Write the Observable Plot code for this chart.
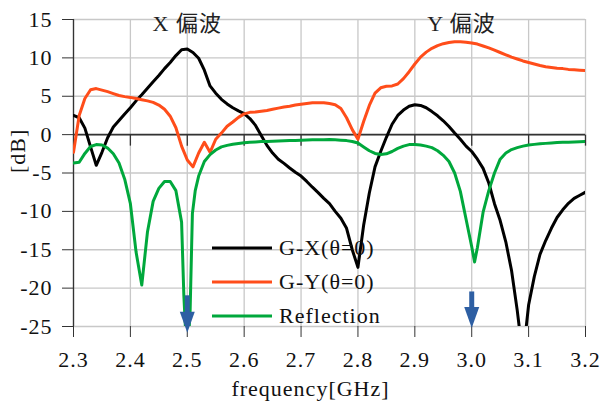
<!DOCTYPE html>
<html>
<head>
<meta charset="utf-8">
<script src="https://cdn.jsdelivr.net/npm/d3@7"></script>
<script src="https://cdn.jsdelivr.net/npm/@observablehq/plot@0.6"></script>
<style>
  body { margin: 0; background: #fff; }
</style>
</head>
<body>
<div id="chart"></div>
<script>
// Frequency sweep (GHz) shared by the two gain curves
const freq = [
  2.30, 2.31, 2.32, 2.33, 2.34, 2.35, 2.36, 2.37, 2.38, 2.39,
  2.40, 2.41, 2.42, 2.43, 2.44, 2.45, 2.46, 2.47, 2.48, 2.49,
  2.50, 2.51, 2.52, 2.53, 2.54, 2.55, 2.56, 2.57, 2.58, 2.59,
  2.60, 2.61, 2.62, 2.63, 2.64, 2.65, 2.66, 2.67, 2.68, 2.69,
  2.70, 2.71, 2.72, 2.73, 2.74, 2.75, 2.76, 2.77, 2.78, 2.79,
  2.80, 2.81, 2.82, 2.83, 2.84, 2.85, 2.86, 2.87, 2.88, 2.89,
  2.90, 2.91, 2.92, 2.93, 2.94, 2.95, 2.96, 2.97, 2.98, 2.99,
  3.00, 3.01, 3.02, 3.03, 3.04, 3.05, 3.06, 3.07, 3.08, 3.09,
  3.10, 3.11, 3.12, 3.13, 3.14, 3.15, 3.16, 3.17, 3.18, 3.19, 3.20
];

// G-X(θ=0) [dB]
const gainGX = [
  2.5, 2.2, 0.85, -1.6, -4.0, -2.3, -0.4, 1.0, 1.85, 2.7,
  3.5, 4.4, 5.2, 6.05, 6.9, 7.7, 8.6, 9.4, 10.3, 11.05,
  11.15, 10.7, 9.95, 8.4, 6.35, 5.4, 4.6, 4.0, 3.5, 3.1,
  2.75, 2.1, 1.2, -0.1, -1.4, -2.4, -3.2, -3.75, -4.35, -4.9,
  -5.4, -6.1, -6.85, -7.55, -8.3, -9.0, -10.0, -10.9, -12.2, -15.0,
  -17.3, -11.8, -7.6, -4.2, -2.2, -0.35, 1.35, 2.5, 3.2, 3.7,
  3.9, 3.8, 3.5, 3.0, 2.45, 1.8, 1.05, 0.2, -0.6, -1.5,
  -2.2, -3.2, -4.4, -6.3, -9.0, -11.2, -14.0, -17.7, -22.9, -29.0,
  -22.2, -18.5, -15.6, -13.8, -12.2, -10.8, -9.8, -8.95, -8.3, -7.9, -7.5
];

// G-Y(θ=0) [dB]
const gainGY = [
  -2.3, 2.5, 4.7, 5.85, 6.0, 5.8, 5.6, 5.35, 5.1, 4.95,
  4.85, 4.7, 4.55, 4.4, 4.2, 3.85, 3.3, 2.4, 0.9, -1.5,
  -3.3, -4.2, -2.4, -1.0, -2.3, -0.6, 0.2, 1.1, 1.65, 2.25,
  2.7, 2.9, 2.95, 3.05, 3.15, 3.3, 3.45, 3.6, 3.7, 3.85,
  3.95, 4.05, 4.15, 4.15, 4.15, 4.05, 3.9, 3.4, 2.2, 0.65,
  -0.6, 1.7, 3.8, 5.4, 6.1, 6.3, 6.35, 6.6, 7.3, 8.2,
  9.2, 10.1, 10.75, 11.25, 11.6, 11.85, 12.0, 12.1, 12.1, 12.05,
  11.95, 11.8, 11.55, 11.3, 11.0, 10.7, 10.4, 10.1, 9.85, 9.6,
  9.4, 9.2, 9.0, 8.85, 8.75, 8.65, 8.6, 8.5, 8.45, 8.4, 8.35
];

// Reflection: denser sweep points around the 2.5 GHz and 3.0 GHz resonances
const reflFreq = [
  2.30, 2.31, 2.32, 2.33, 2.34, 2.35, 2.36, 2.37, 2.38, 2.39,
  2.40, 2.41, 2.42, 2.43, 2.44, 2.45, 2.46, 2.47, 2.48, 2.49,
  2.494, 2.498, 2.502, 2.505, 2.509, 2.514,
  2.52, 2.53, 2.54, 2.55, 2.56, 2.57, 2.58, 2.59,
  2.60, 2.61, 2.62, 2.63, 2.64, 2.65, 2.66, 2.67, 2.68, 2.69,
  2.70, 2.71, 2.72, 2.73, 2.74, 2.75, 2.76, 2.77, 2.78, 2.79,
  2.80, 2.81, 2.82, 2.83, 2.84, 2.85, 2.86, 2.87, 2.88, 2.89,
  2.90, 2.91, 2.92, 2.93, 2.94, 2.95, 2.96, 2.97, 2.98, 2.99,
  3.00, 3.005, 3.01, 3.02, 3.03, 3.04, 3.05, 3.06, 3.07, 3.08, 3.09,
  3.10, 3.11, 3.12, 3.13, 3.14, 3.15, 3.16, 3.17, 3.18, 3.19, 3.20
];
const reflDb = [
  -3.7, -3.6, -2.45, -1.55, -1.3, -1.35, -1.75, -2.5, -3.7, -5.8,
  -9.0, -15.3, -19.6, -12.7, -8.7, -7.0, -6.1, -6.1, -7.3, -11.4,
  -21.0, -27.0, -27.0, -22.9, -10.3, -7.3,
  -5.4, -3.5, -2.6, -2.0, -1.6, -1.4, -1.25, -1.15,
  -1.05, -1.0, -0.95, -0.9, -0.88, -0.85, -0.82, -0.8, -0.77, -0.75,
  -0.72, -0.7, -0.68, -0.67, -0.66, -0.65, -0.68, -0.72, -0.78, -0.9,
  -1.1, -1.6, -2.1, -2.45, -2.6, -2.5, -2.2, -1.8, -1.5, -1.3,
  -1.3, -1.35, -1.5, -1.7, -2.1, -2.7, -3.5, -5.0, -7.4, -11.0,
  -14.6, -16.6, -14.7, -10.1, -7.3, -5.0, -3.2, -2.4, -1.95, -1.7, -1.5,
  -1.35, -1.27, -1.2, -1.14, -1.08, -1.04, -1.0, -0.98, -0.95, -0.92, -0.9
];

const seriesNames = ["G-X(θ=0)", "G-Y(θ=0)", "Reflection"];
const seriesColors = ["#000000", "#ff4d1a", "#00a83c"];

const xTicks = [2.3, 2.4, 2.5, 2.6, 2.7, 2.8, 2.9, 3.0, 3.1, 3.2];
const yTicks = [15, 10, 5, 0, -5, -10, -15, -20, -25];

// Band annotations
const bandLabels = ["X 偏波", "Y 偏波"];
const bandLabelFreq = [2.5, 2.982];
const bandLabelDb = [14.4, 14.4];

// Design-frequency markers (downward arrows)
const arrowFreq = [2.5, 3.0];
const arrowTop = [-21.0, -20.5];
const arrowTip = [-25.8, -25.2];

const gx = freq.map((f, i) => ({f, db: gainGX[i]}));
const gy = freq.map((f, i) => ({f, db: gainGY[i]}));
const refl = reflFreq.map((f, i) => ({f, db: reflDb[i]}));
const arrows = arrowFreq.map((f, i) => ({f, top: arrowTop[i], tip: arrowTip[i]}));
const bands = bandLabels.map((t, i) => ({t, f: bandLabelFreq[i], db: bandLabelDb[i]}));

const axisInk = "#333";
const gridInk = "#c8c8c8";
const arrowInk = "#2e5fa3";

// short tick hanging below the 0 dB axis line
const tickDown = {draw(ctx) { ctx.moveTo(0, 0); ctx.lineTo(0, 11); }};
// filled arrow head whose tip sits on the anchor point
const arrowHead = {draw(ctx) { ctx.moveTo(0, 0); ctx.lineTo(-7.5, -21); ctx.lineTo(7.5, -21); ctx.closePath(); }};

const lineOpts = (color) => ({
  x: "f", y: "db", stroke: color, strokeWidth: 3,
  strokeLinejoin: "round", strokeLinecap: "round", clip: true
});

const plot = Plot.plot({
  width: 601,
  height: 414,
  marginLeft: 73,
  marginRight: 16,
  marginTop: 19,
  marginBottom: 88,
  style: {
    fontFamily: "'Liberation Serif', 'Times New Roman', 'Noto Sans CJK JP', serif",
    fontSize: "22px",
    letterSpacing: "1px",
    background: "#fff",
    color: "#111"
  },
  x: {domain: [2.3, 3.2]},
  y: {domain: [-25, 15]},
  marks: [
    Plot.gridX({ticks: xTicks, stroke: gridInk, strokeOpacity: 1, strokeWidth: 1.3}),
    Plot.gridY({ticks: yTicks, stroke: gridInk, strokeOpacity: 1, strokeWidth: 1.3}),
    Plot.axisY({ticks: yTicks, tickSize: 11, tickPadding: 10, tickFormat: d => String(d), label: null, stroke: axisInk}),
    Plot.axisX({ticks: xTicks, tickSize: 11, tickPadding: 14, tickFormat: d => d.toFixed(1), label: null, stroke: axisInk}),
    Plot.ruleX([2.3], {stroke: axisInk, strokeWidth: 1.3}),
    Plot.ruleY([0], {stroke: axisInk, strokeWidth: 1.6}),
    Plot.dot(xTicks.slice(1), {x: d => d, y: () => 0, symbol: tickDown, stroke: axisInk, strokeWidth: 1.3, fill: "none"}),
    Plot.line(gx, lineOpts(seriesColors[0])),
    Plot.line(gy, lineOpts(seriesColors[1])),
    Plot.line(refl, lineOpts(seriesColors[2])),
    Plot.ruleX(arrows, {x: "f", y1: "top", y2: "tip", stroke: arrowInk, strokeWidth: 5, insetBottom: 14}),
    Plot.dot(arrows, {x: "f", y: "tip", symbol: arrowHead, fill: arrowInk, stroke: "none"}),
    Plot.text(bands, {x: "f", y: "db", text: "t", fill: "#222"}),
    Plot.text(["[dB]"], {frameAnchor: "left", dx: -56, rotate: -90, fill: "#111"}),
    Plot.text(["frequency[GHz]"], {frameAnchor: "bottom", dx: -19, dy: 69, fill: "#111"})
  ]
});

// in-plot legend
const svg = d3.select(plot);
const legend = svg.append("g").attr("text-anchor", "start");
seriesNames.forEach((name, i) => {
  const y = 248 + i * 34;
  legend.append("line")
    .attr("x1", 212).attr("x2", 272).attr("y1", y).attr("y2", y)
    .attr("stroke", seriesColors[i]).attr("stroke-width", 3);
  legend.append("text")
    .attr("x", 279).attr("y", y).attr("dy", "0.34em")
    .attr("fill", "#111")
    .text(name);
});

document.getElementById("chart").appendChild(plot);
</script>
</body>
</html>
